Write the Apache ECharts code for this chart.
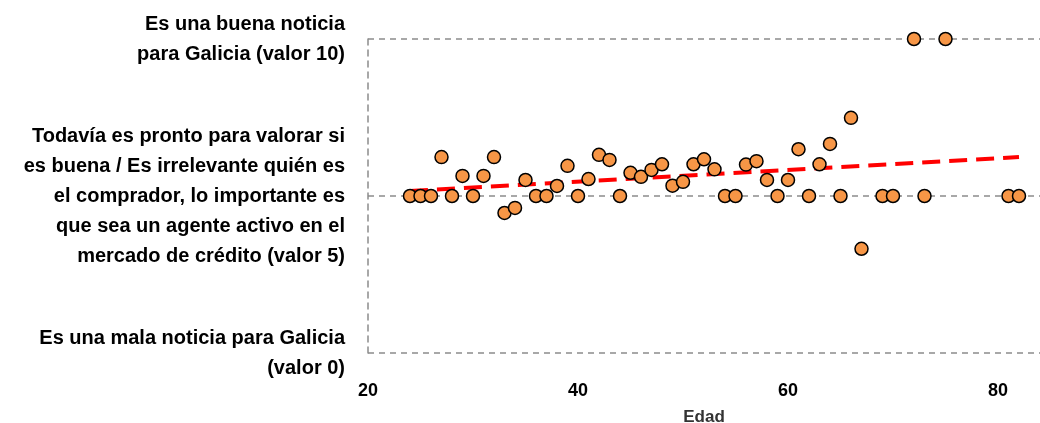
<!DOCTYPE html>
<html><head><meta charset="utf-8">
<script src="https://cdn.jsdelivr.net/npm/echarts@6/dist/echarts.min.js"></script>
<style>html,body{margin:0;padding:0;background:#fff}#c{width:1040px;height:423px}</style>
</head><body><div id="c"></div>
<script>
const ages = [24,25,26,27,28,29,30,31,32,33,34,35,36,37,38,39,40,41,42,43,44,45,46,47,48,49,50,51,52,53,54,55,56,57,58,59,60,61,62,63,64,65,66,67,69,70,72,73,75,81,82];
const values = [5,5,5,6.24,5,5.64,5,5.64,6.24,4.46,4.62,5.51,5,5,5.32,5.96,5,5.54,6.31,6.15,5,5.74,5.61,5.83,6.01,5.33,5.45,6.01,6.17,5.85,5,5,6.0,6.11,5.51,5,5.51,6.49,5,6.01,6.66,5,7.49,3.32,5,5,10,5,10,5,5];
const trendX = [24, 82];
const trendY = [5.16, 6.24];
const yTickLabels = {
  0: 'Es una mala noticia para Galicia\n(valor 0)',
  5: 'Todavía es pronto para valorar si\nes buena / Es irrelevante quién es\nel comprador, lo importante es\nque sea un agente activo en el\nmercado de crédito (valor 5)',
  10: 'Es una buena noticia\npara Galicia (valor 10)'
};
const xAxisName = 'Edad';

const FONT = 'Liberation Sans';
const chart = echarts.init(document.getElementById('c'));
chart.setOption({
  animation: false,
  grid: {left: 368, right: 0, top: 39, bottom: 70, containLabel: false, outerBoundsMode: 'none'},
  xAxis: {
    type: 'value', min: 20, max: 84, interval: 20,
    name: xAxisName, nameLocation: 'middle', nameGap: 56,
    nameTextStyle: {fontFamily: FONT, fontWeight: 'bold', fontSize: 17, color: '#333'},
    axisLine: {show: false}, axisTick: {show: false}, splitLine: {show: false},
    axisLabel: {showMaxLabel: false, margin: 29, fontFamily: FONT, fontWeight: 'bold', fontSize: 18, color: '#000'}
  },
  yAxis: {
    type: 'value', min: 0, max: 10, interval: 5,
    axisLine: {show: true, lineStyle: {color: '#8c8c8c', type: [6, 5], width: 1.5}},
    axisTick: {show: false},
    splitLine: {show: true, lineStyle: {color: '#8c8c8c', type: [6, 5], width: 1.5}},
    axisLabel: {
      margin: 23, align: 'right', lineHeight: 30,
      fontFamily: FONT, fontWeight: 'bold', fontSize: 20, color: '#000',
      formatter: v => yTickLabels[v] || ''
    }
  },
  series: [
    {
      type: 'line', data: trendX.map((x, i) => [x, trendY[i]]),
      symbol: 'none', z: 3,
      lineStyle: {color: '#ff0000', width: 4, type: [18, 9]}
    },
    {
      type: 'scatter', data: ages.map((a, i) => [a, values[i]]),
      symbolSize: 13, z: 4,
      itemStyle: {color: '#f79646', borderColor: '#000', borderWidth: 1.5, opacity: 1}
    }
  ]
});
</script></body></html>
